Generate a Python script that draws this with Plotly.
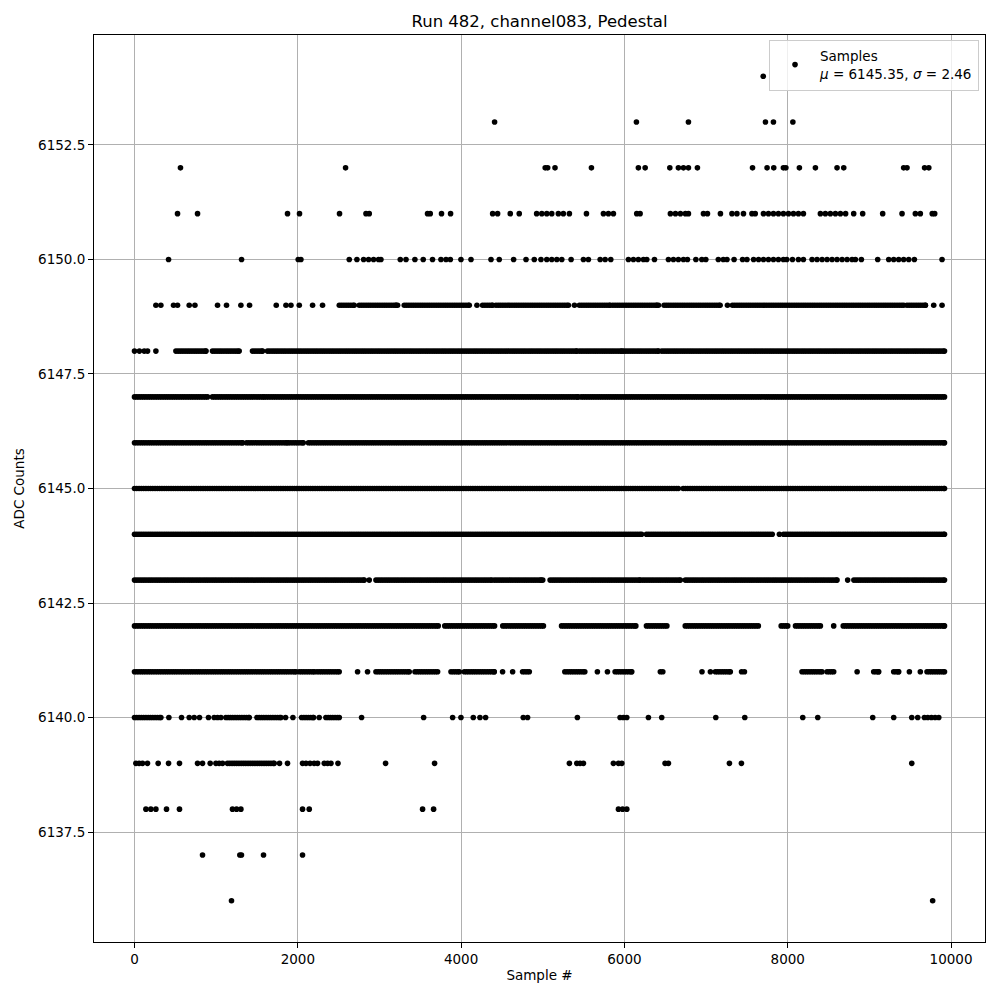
import numpy as np
import plotly.graph_objects as go

TITLE = "Run 482, channel083, Pedestal"
X_LABEL = "Sample #"
Y_LABEL = "ADC Counts"
MU = 6145.35
SIGMA = 2.46
N_LAST = 9920  # last sample index

# ---- isolated samples (sample index) read per ADC level ----
pts_6154 = [7700]
pts_6153 = [4410, 6147, 6784, 7727, 7825, 8063]
pts_6152 = [563, 2585, 5030, 5060, 5150, 5596, 6171, 6254, 6556, 6661, 6723, 6784,
            6894, 7569, 7747, 7829, 7947, 7977, 8143, 8339, 8604, 8686, 9420, 9461,
            9676, 9728]
pts_6151 = [527, 772, 1874, 2021, 2511, 2835, 2875, 3589, 3622, 3760, 3871, 4386,
            4447, 4602, 4712, 4925, 4988, 5049, 5110, 5191, 5252, 5326, 5535, 5743,
            5804, 5865, 6151, 6192, 6563, 6625, 6686, 6747, 6784, 6968, 7017, 7176,
            7317, 7378, 7458, 7562, 7602, 7703, 7764, 7825, 7886, 7947, 8009, 8070,
            8131, 8192, 8400, 8461, 8522, 8584, 8645, 8709, 8808, 8918, 9163, 9400,
            9563, 9624, 9770, 9800]
pts_6150 = [417, 1311, 2005, 2038, 2630, 2724, 2806, 2867, 2928, 2989, 3018, 3255,
            3325, 3434, 3536, 3650, 3753, 3815, 3868, 3998, 4121, 4366, 4467, 4643,
            4795, 4896, 4978, 5049, 5110, 5172, 5233, 5347, 5498, 5559, 5703, 5764,
            5833, 6049, 6110, 6171, 6233, 6274, 6368, 6539, 6600, 6661, 6723, 6772,
            6875, 6948, 6997, 7150, 7211, 7256, 7343, 7447, 7501, 7582, 7643, 7703,
            7764, 7825, 7886, 7947, 7988, 8058, 8131, 8192, 8298, 8359, 8421, 8482,
            8543, 8604, 8666, 8727, 8788, 8829, 8902, 9102, 9237, 9298, 9359, 9420,
            9482, 9551, 9890]
pts_6149 = [262, 323, 478, 527, 670, 740, 1017, 1127, 1303, 1409, 1736, 1855, 1916,
            2018, 2181, 2303, 3222, 4194, 5388, 6417, 7262, 9788, 9890]
pts_6148 = [0, 60, 119, 160, 262]
pts_6144 = [7898]
pts_6143 = [2875, 5000, 8734]
pts_6142 = [8563]
pts_6141 = [2732, 2854, 4508, 4631, 5669, 5792, 6440, 6470, 6950, 7053, 7435, 7470,
            8850, 9490, 9624]
pts_6140 = [421, 576, 670, 731, 796, 906, 976, 1017, 1058, 1850, 1940, 2262, 2781,
            3541, 3896, 3998, 4149, 4231, 4300, 4761, 4814, 5424, 5947, 5988, 6029,
            6294, 6457, 7119, 7474, 8184, 8368, 9041, 9298, 9519, 9592, 9674, 9715,
            9760, 9805, 9850]
pts_6139 = [17, 57, 98, 159, 290, 417, 551, 772, 833, 927, 997, 1037, 1078, 1776,
            1874, 2058, 2100, 2150, 2200, 2242, 2324, 2365, 2406, 2492, 3075, 3675,
            5326, 5417, 5457, 5498, 5865, 5927, 5968, 6498, 6539, 7286, 7433, 9519]
pts_6138 = [140, 200, 262, 392, 551, 1200, 1250, 1303, 2058, 2140, 3528, 3663,
            5927, 5978, 6029]
pts_6137 = [833, 1290, 1310, 1580, 2058]
pts_6136 = [1188, 9775]

# ---- densely filled stretches (first, last sample index) per ADC level ----
runs_6149 = [(2508, 2691), (2753, 3202), (3304, 4100), (4263, 4386), (4427, 5314),
             (5449, 5825), (5858, 6397), (6486, 7172), (7323, 9420), (9461, 9686)]
runs_6148 = [(507, 875), (955, 1282), (1445, 1568), (1629, 5416), (5449, 5968),
             (5988, 6417), (6458, N_LAST)]
runs_6147 = [(0, 894), (955, 1589), (1617, 5430), (5470, N_LAST)]
runs_6146 = [(0, 1323), (1372, 1867), (1887, 2067), (2130, N_LAST)]
runs_6145 = [(0, 6660), (6720, N_LAST)]
runs_6144 = [(0, 6210), (6270, 7810), (7950, N_LAST)]
runs_6143 = [(0, 2814), (2957, 4378), (4410, 4980), (5090, 6190), (6220, 6685),
             (6746, 8604), (8810, N_LAST)]
runs_6142 = [(0, 3720), (3800, 4410), (4510, 5008), (5230, 6140), (6270, 6520),
             (6745, 7640), (7920, 8000), (8095, 8400), (8680, N_LAST)]
runs_6141 = [(0, 1977), (2017, 2201), (2234, 2507), (2957, 3365), (3435, 3712),
             (3876, 3978), (4039, 4406), (4753, 4835), (5270, 5515), (5886, 6090),
             (7114, 7297), (8175, 8420), (8482, 8563), (9053, 9114), (9298, 9359),
             (9706, N_LAST)]
runs_6140 = [(0, 323), (1119, 1405), (1499, 1793), (2046, 2193), (2344, 2508)]
runs_6139 = [(1139, 1711)]

levels = {
    6154: (pts_6154, []), 6153: (pts_6153, []), 6152: (pts_6152, []),
    6151: (pts_6151, []), 6150: (pts_6150, []), 6149: (pts_6149, runs_6149),
    6148: (pts_6148, runs_6148), 6147: ([], runs_6147), 6146: ([], runs_6146),
    6145: ([], runs_6145), 6144: (pts_6144, runs_6144), 6143: (pts_6143, runs_6143),
    6142: (pts_6142, runs_6142), 6141: (pts_6141, runs_6141),
    6140: (pts_6140, runs_6140), 6139: (pts_6139, runs_6139),
    6138: (pts_6138, []), 6137: (pts_6137, []), 6136: (pts_6136, []),
}

xs, ys = [], []
for adc, (pts, runs) in levels.items():
    for p in pts:
        xs.append(p); ys.append(adc)
    for a, b in runs:
        seg = list(np.arange(a, b + 1, 28))
        if seg[-1] != b:
            seg.append(b)
        xs.extend(seg); ys.extend([adc] * len(seg))

xs = np.array(xs); ys = np.array(ys)

FONT = "DejaVu Sans"
fig = go.Figure()
fig.add_trace(go.Scatter(
    x=xs, y=ys, mode="markers",
    marker=dict(color="black", size=5.6, line=dict(width=0)),
    name=f"Samples<br><i>μ</i> = {MU:.2f}, <i>σ</i> = {SIGMA:.2f}",
    showlegend=True,
))

xmin, xmax = 0, N_LAST
xpad = 0.05 * (xmax - xmin)
ymin, ymax = 6136, 6154
ypad = 0.05 * (ymax - ymin)

axis_common = dict(
    showline=True, linecolor="black", linewidth=1, mirror=True,
    ticks="outside", ticklen=5, tickwidth=1, tickcolor="black",
    showgrid=True, gridcolor="#b0b0b0", gridwidth=0.8,
    zeroline=False, automargin=False,
    tickfont=dict(family=FONT, size=13.5, color="black"),
)

# the page body has an 8px default margin, so the figure is 992 px and shifted
W = H = 992
fig.update_layout(
    width=W, height=H,
    margin=dict(l=86, r=15, t=27, b=58),
    paper_bgcolor="white", plot_bgcolor="white",
    font=dict(family=FONT, size=13.5, color="black"),
    title=dict(text=TITLE, x=0.5, xref="paper", xanchor="center",
               y=1 - 13 / H, yref="container", yanchor="middle",
               font=dict(family=FONT, size=16.5, color="black")),
    xaxis=dict(range=[xmin - xpad, xmax + xpad], tickvals=[0, 2000, 4000, 6000, 8000, 10000],
               ticktext=["0", "2000", "4000", "6000", "8000", "10000"],
               title=dict(text=X_LABEL, font=dict(family=FONT, size=13.5), standoff=4),
               **axis_common),
    yaxis=dict(range=[ymin - ypad, ymax + ypad],
               tickvals=[6137.5, 6140.0, 6142.5, 6145.0, 6147.5, 6150.0, 6152.5],
               ticktext=["6137.5", "6140.0", "6142.5", "6145.0", "6147.5", "6150.0", "6152.5"],
               title=dict(text=Y_LABEL, font=dict(family=FONT, size=13.5), standoff=10),
               **axis_common),
    legend=dict(x=0.9933, xanchor="right", y=0.995, yanchor="top",
                bgcolor="rgba(255,255,255,0.8)", bordercolor="#cccccc", borderwidth=1,
                font=dict(family=FONT, size=13.5, color="black"),
                itemwidth=40),
)

fig.write_html("out.html")
